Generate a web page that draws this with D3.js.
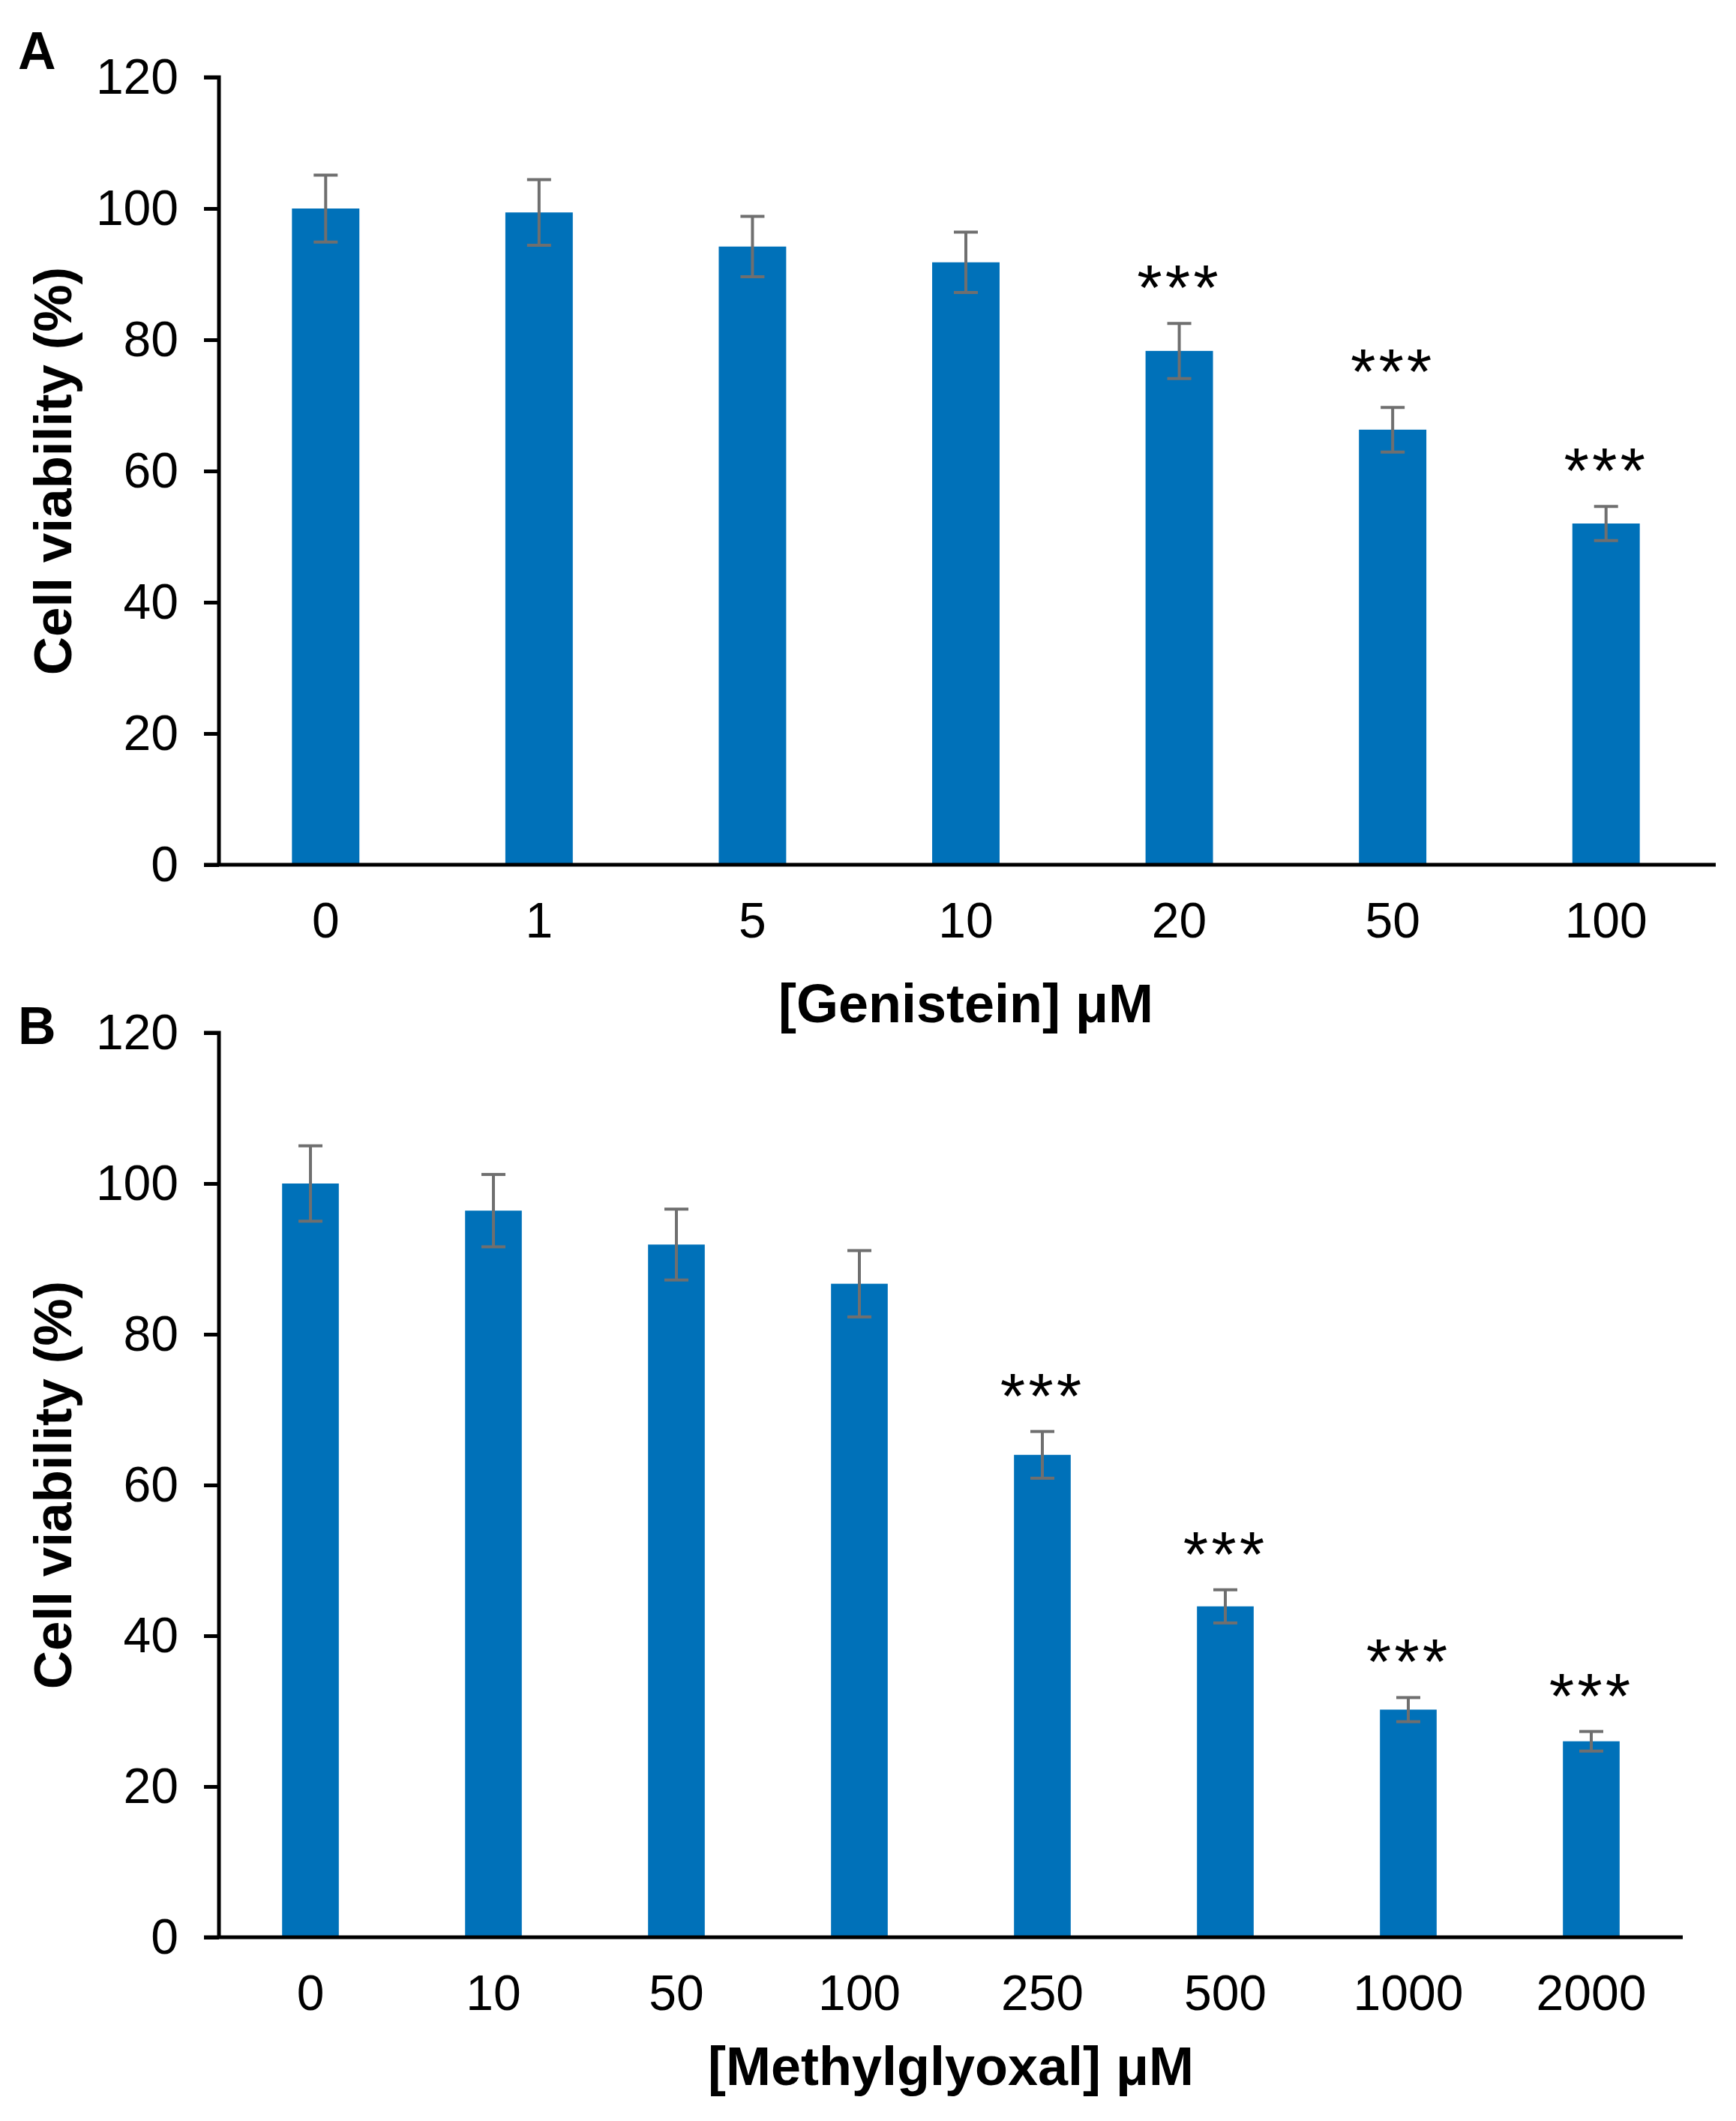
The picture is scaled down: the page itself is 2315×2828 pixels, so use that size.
<!DOCTYPE html>
<html>
<head>
<meta charset="utf-8">
<script src="https://cdn.jsdelivr.net/npm/d3@7"></script>
<style>
  body { margin: 0; background: #fff; }
  text { font-family: "Liberation Sans", Arial, sans-serif; fill: #000; }
</style>
</head>
<body>
<svg width="2315" height="2828"></svg>
<script>
// Panel A: genistein
const genisteinDoses = ["0", "1", "5", "10", "20", "50", "100"];
const genisteinViability = [100, 99.4, 94.2, 91.8, 78.3, 66.3, 52.0];
const genisteinError = [5.1, 5.0, 4.6, 4.6, 4.2, 3.4, 2.6];
const genisteinStars = ["", "", "", "", "***", "***", "***"];

// Panel B: methylglyoxal
const mgoDoses = ["0", "10", "50", "100", "250", "500", "1000", "2000"];
const mgoViability = [100, 96.4, 91.9, 86.7, 64.0, 43.9, 30.2, 26.0];
const mgoError = [5.0, 4.8, 4.7, 4.4, 3.1, 2.2, 1.6, 1.3];
const mgoStars = ["", "", "", "", "***", "***", "***", "***"];

const yTicks = [0, 20, 40, 60, 80, 100, 120];

const svg = d3.select("svg");
svg.append("rect").attr("width", 2315).attr("height", 2828).attr("fill", "#fff");

function panel(opts) {
  const x = d3.scaleBand()
    .domain(opts.doses)
    .range([opts.left, opts.right])
    .paddingInner(opts.pad)
    .paddingOuter(opts.pad / 2);

  const y = d3.scaleLinear()
    .domain([0, 120])
    .range([opts.bottom, opts.top]);

  const g = svg.append("g");

  // bars
  g.selectAll("rect.bar")
    .data(opts.doses)
    .enter().append("rect")
      .attr("class", "bar")
      .attr("x", d => x(d))
      .attr("width", x.bandwidth())
      .attr("y", (d, i) => y(opts.values[i]))
      .attr("height", (d, i) => y(0) - y(opts.values[i]))
      .attr("fill", "#0071b9");

  // error bars
  const eb = g.selectAll("g.err")
    .data(opts.doses)
    .enter().append("g")
      .attr("class", "err")
      .attr("stroke", "#6f6f6f")
      .attr("stroke-width", 4);
  const cx = d => x(d) + x.bandwidth() / 2;
  eb.append("line")
    .attr("x1", cx).attr("x2", cx)
    .attr("y1", (d, i) => y(opts.values[i] + opts.errors[i]))
    .attr("y2", (d, i) => y(opts.values[i] - opts.errors[i]));
  eb.append("line")
    .attr("x1", d => cx(d) - 16).attr("x2", d => cx(d) + 16)
    .attr("y1", (d, i) => y(opts.values[i] + opts.errors[i]))
    .attr("y2", (d, i) => y(opts.values[i] + opts.errors[i]));
  eb.append("line")
    .attr("x1", d => cx(d) - 16).attr("x2", d => cx(d) + 16)
    .attr("y1", (d, i) => y(opts.values[i] - opts.errors[i]))
    .attr("y2", (d, i) => y(opts.values[i] - opts.errors[i]));

  // significance stars
  g.selectAll("text.star")
    .data(opts.doses)
    .enter().append("text")
      .attr("class", "star")
      .attr("x", cx)
      .attr("y", (d, i) => y(opts.values[i] + opts.errors[i]) - 18)
      .attr("text-anchor", "middle")
      .attr("font-size", 86)
      .attr("letter-spacing", 4)
      .text((d, i) => opts.stars[i]);

  // y axis
  const yAxis = g.append("g")
    .attr("transform", `translate(${opts.left},0)`)
    .call(d3.axisLeft(y).tickValues(yTicks).tickSize(20).tickPadding(34));
  yAxis.select(".domain").attr("stroke", "#000").attr("stroke-width", 5)
    .attr("d", `M-20,${opts.top}H0V${opts.bottom}`);
  yAxis.selectAll(".tick line").attr("stroke", "#000").attr("stroke-width", 5);
  yAxis.selectAll(".tick text").attr("font-size", 66).attr("font-family", "Liberation Sans, Arial, sans-serif");

  // x axis
  const xAxis = g.append("g")
    .attr("transform", `translate(0,${opts.bottom})`)
    .call(d3.axisBottom(x).tickSize(0).tickPadding(50));
  xAxis.select(".domain").attr("stroke", "#000").attr("stroke-width", 5)
    .attr("d", `M${opts.left - 20},0H${opts.axisEnd}`);
  xAxis.selectAll(".tick text").attr("font-size", 66).attr("font-family", "Liberation Sans, Arial, sans-serif")
    .attr("dy", "0.71em");

  // axis titles
  g.append("text")
    .attr("x", (opts.left + opts.right) / 2)
    .attr("y", opts.bottom + opts.xTitleGap)
    .attr("text-anchor", "middle")
    .attr("font-size", 72)
    .attr("font-weight", "bold")
    .text(opts.xTitle);

  g.append("text")
    .attr("transform", `translate(95,${(opts.top + opts.bottom) / 2}) rotate(-90)`)
    .attr("text-anchor", "middle")
    .attr("font-size", 71)
    .attr("font-weight", "bold")
    .text("Cell viability (%)");

  // panel letter
  g.append("text")
    .attr("x", 24)
    .attr("y", opts.letterY)
    .attr("font-size", 70)
    .attr("font-weight", "bold")
    .text(opts.letter);
}

panel({
  doses: genisteinDoses, values: genisteinViability, errors: genisteinError, stars: genisteinStars,
  left: 292, right: 2284, axisEnd: 2288, top: 103, bottom: 1153, pad: 0.684,
  xTitle: "[Genistein] μM", xTitleGap: 210, letter: "A", letterY: 92
});

panel({
  doses: mgoDoses, values: mgoViability, errors: mgoError, stars: mgoStars,
  left: 292, right: 2244, axisEnd: 2244, top: 1377, bottom: 2583, pad: 0.69,
  xTitle: "[Methylglyoxal] μM", xTitleGap: 197, letter: "B", letterY: 1392
});
</script>
</body>
</html>
